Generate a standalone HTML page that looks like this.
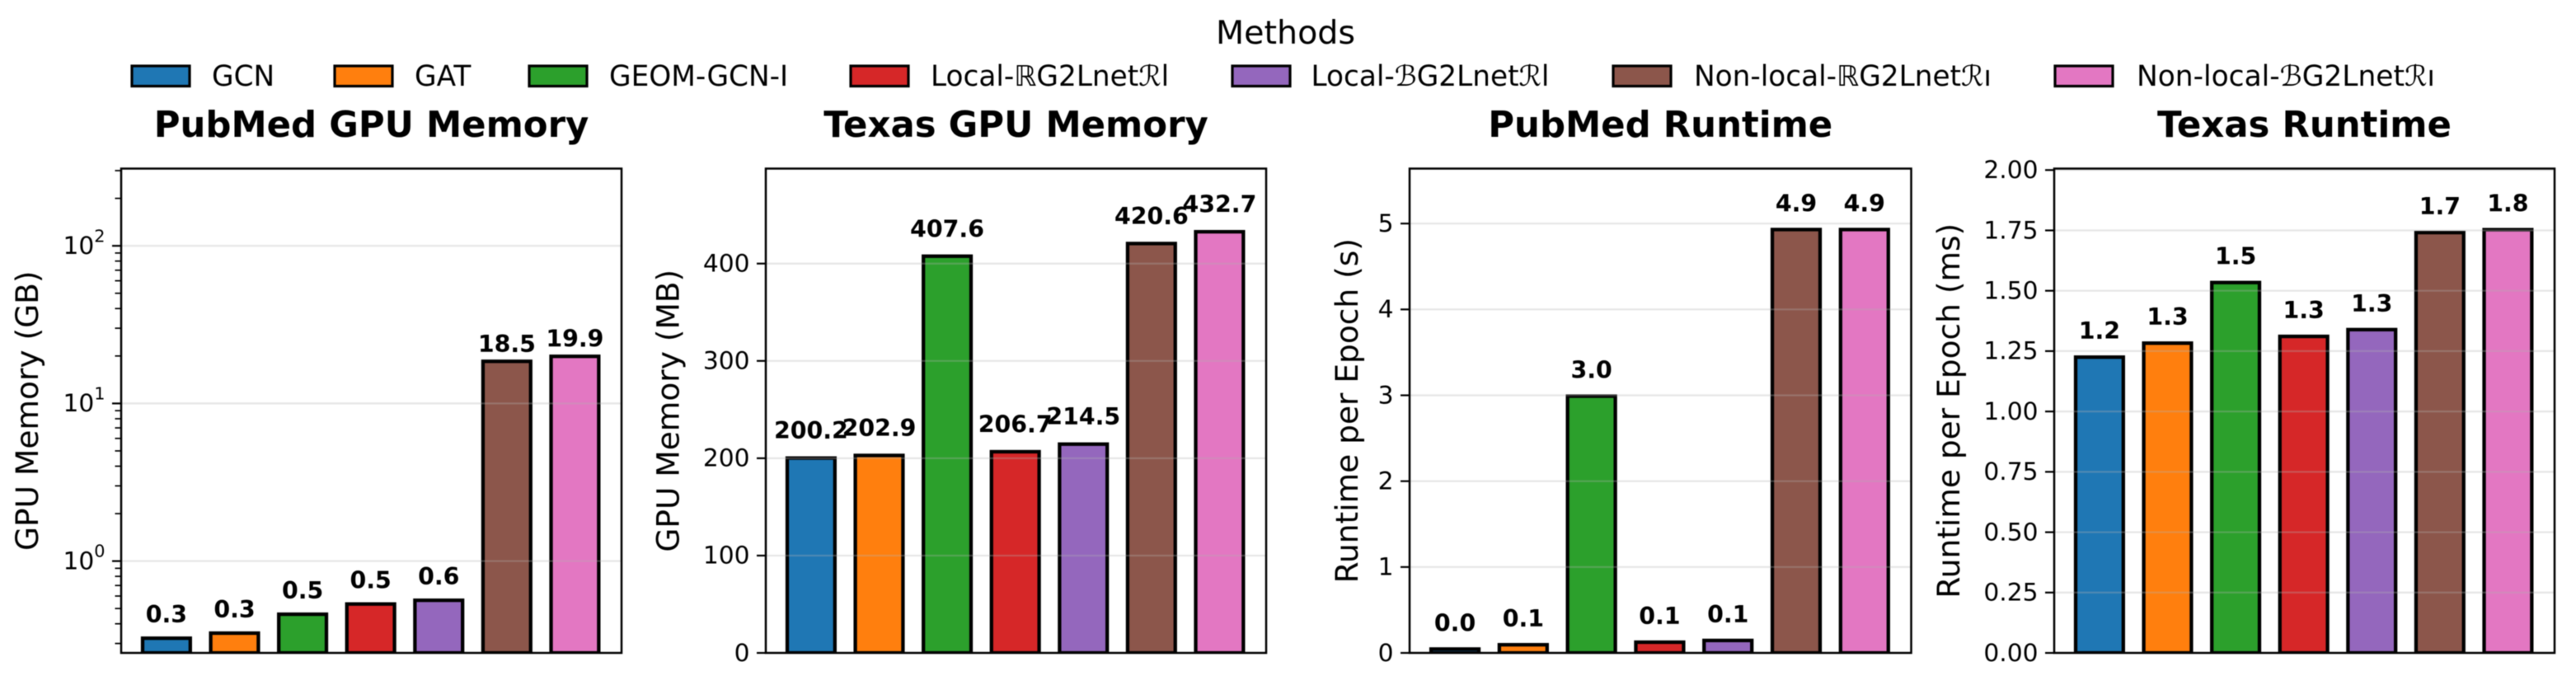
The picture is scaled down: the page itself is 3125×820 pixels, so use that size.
<!DOCTYPE html>
<html lang="en">
<head>
<meta charset="utf-8">
<title>GPU Memory and Runtime Comparison</title>
<style>
html,body{margin:0;padding:0;background:#fff;width:3125px;height:820px;overflow:hidden}
svg{display:block;filter:blur(0.6px)}
text{font-family:"DejaVu Sans","Liberation Sans",sans-serif;fill:#000}
.legend-label{font-size:34.3px}
.panel-title{font-size:43.4px;font-weight:700;text-anchor:middle}
.tick-label{font-size:29.7px;text-anchor:end}
.axis-label{font-size:37.5px;text-anchor:middle}
.value-label{font-size:28.4px;font-weight:700;text-anchor:middle}
</style>
</head>
<body>
<svg id="figure" xmlns="http://www.w3.org/2000/svg" width="3125" height="820" viewBox="0 0 3125 820">
  <rect x="0" y="0" width="3125" height="820" fill="#fff"/>
  <g>
    <text x="1559.5" y="53" text-anchor="middle" font-size="39.6">Methods</text>
    <g>
      <rect x="160" y="80" width="70" height="24.5" fill="#1f77b4" stroke="#000" stroke-width="3.2"/>
      <text class="legend-label" x="257" y="104">GCN</text>
    </g>
    <g>
      <rect x="406" y="80" width="70" height="24.5" fill="#ff7f0e" stroke="#000" stroke-width="3.2"/>
      <text class="legend-label" x="503" y="104">GAT</text>
    </g>
    <g>
      <rect x="642" y="80" width="70" height="24.5" fill="#2ca02c" stroke="#000" stroke-width="3.2"/>
      <text class="legend-label" x="739" y="104">GEOM-GCN-I</text>
    </g>
    <g>
      <rect x="1032" y="80" width="70" height="24.5" fill="#d62728" stroke="#000" stroke-width="3.2"/>
      <text class="legend-label" x="1129" y="104">Local-ℝG2Lnetℛl</text>
    </g>
    <g>
      <rect x="1495" y="80" width="70" height="24.5" fill="#9467bd" stroke="#000" stroke-width="3.2"/>
      <text class="legend-label" x="1590.5" y="104">Local-ℬG2Lnetℛl</text>
    </g>
    <g>
      <rect x="1957" y="80" width="70" height="24.5" fill="#8c564b" stroke="#000" stroke-width="3.2"/>
      <text class="legend-label" x="2055" y="104">Non-local-ℝG2Lnetℛı</text>
    </g>
    <g>
      <rect x="2493" y="80" width="70" height="24.5" fill="#e377c2" stroke="#000" stroke-width="3.2"/>
      <text class="legend-label" x="2592" y="104" textLength="362" lengthAdjust="spacingAndGlyphs">Non-local-ℬG2Lnetℛı</text>
    </g>
  </g>
</svg>
<script>
// ---- chart data ----
const methods = ["GCN", "GAT", "GEOM-GCN-I", "Local-R", "Local-B", "Non-local-R", "Non-local-B"];
const barColors = ["#1f77b4", "#ff7f0e", "#2ca02c", "#d62728", "#9467bd", "#8c564b", "#e377c2"];

const pubmedMemoryValues = [0.324, 0.349, 0.46, 0.534, 0.564, 18.5, 19.9];
const texasMemoryValues = [200.2, 202.9, 407.6, 206.7, 214.5, 420.6, 432.7];
const pubmedRuntimeValues = [0.045, 0.095, 2.99, 0.125, 0.145, 4.93, 4.93];
const texasRuntimeValues = [1.225, 1.283, 1.534, 1.311, 1.339, 1.741, 1.753];

const pubmedMemoryDomain = [0.2614, 309];
const texasMemoryDomain = [0, 497.6];
const pubmedRuntimeDomain = [0, 5.64];
const texasRuntimeDomain = [0, 2.006];

const pubmedMemoryMajorTicks = [1, 10, 100];
const pubmedMemoryExponents = ["0", "1", "2"];
const pubmedMemoryMinorTicks = [0.3, 0.4, 0.5, 0.6, 0.7, 0.8, 0.9, 2, 3, 4, 5, 6, 7, 8, 9, 20, 30, 40, 50, 60, 70, 80, 90, 200, 300];
const texasMemoryTicks = [0, 100, 200, 300, 400];
const texasMemoryTickLabels = ["0", "100", "200", "300", "400"];
const pubmedRuntimeTicks = [0, 1, 2, 3, 4, 5];
const pubmedRuntimeTickLabels = ["0", "1", "2", "3", "4", "5"];
const texasRuntimeTicks = [0, 0.25, 0.5, 0.75, 1, 1.25, 1.5, 1.75, 2];
const texasRuntimeTickLabels = ["0.00", "0.25", "0.50", "0.75", "1.00", "1.25", "1.50", "1.75", "2.00"];

// ---- rendering ----
const SVG_NS = "http://www.w3.org/2000/svg";
const figure = document.getElementById("figure");
const AXIS_TOP = 204.5;
const AXIS_BOTTOM = 792;

function make(parent, tag, attrs, text) {
  const el = document.createElementNS(SVG_NS, tag);
  for (const key in attrs) el.setAttribute(key, attrs[key]);
  if (text !== undefined) el.textContent = text;
  parent.appendChild(el);
  return el;
}

function drawChart(cfg) {
  const left = cfg.left, right = cfg.right;
  const unit = (right - left) / 7.35;
  const xScale = function (i) { return left + (i + 0.665) * unit; };
  const span = AXIS_BOTTOM - AXIS_TOP;
  const yScale = cfg.log
    ? function (v) {
        const lo = Math.log10(cfg.domain[0]), hi = Math.log10(cfg.domain[1]);
        return AXIS_BOTTOM - (Math.log10(v) - lo) / (hi - lo) * span;
      }
    : function (v) {
        return AXIS_BOTTOM - (v - cfg.domain[0]) / (cfg.domain[1] - cfg.domain[0]) * span;
      };

  const panel = make(figure, "g", {});
  
  

  const clip = make(panel, "clipPath", { id: cfg.id + "-clip" });
  make(clip, "rect", { x: left, y: AXIS_TOP, width: right - left, height: span });

  const title = make(panel, "text", { class: "panel-title", x: (left + right) / 2, y: 166 }, cfg.title);
  
  

  const yTitle = make(panel, "text", {
    class: "axis-label",
    transform: "translate(" + cfg.labelX + "," + ((AXIS_TOP + AXIS_BOTTOM) / 2) + ") rotate(-90)"
  }, cfg.yTitle);
  
  

  const bars = make(panel, "g", { "clip-path": "url(#" + cfg.id + "-clip)" });
  
  
  cfg.values.forEach(function (v, i) {
    const top = yScale(v);
    const bar = make(bars, "rect", {
      x: xScale(i) - 0.35 * unit,
      y: top,
      width: 0.7 * unit,
      height: AXIS_BOTTOM - top,
      fill: barColors[i],
      stroke: "#000",
      "stroke-width": 4.3
    });
    
    
  });

  const grid = make(panel, "g", {});
  
  
  cfg.ticks.forEach(function (t) {
    const y = yScale(t);
    if (y < AXIS_TOP || y > AXIS_BOTTOM) return;
    const line = make(grid, "line", { x1: left, x2: right, y1: y, y2: y, stroke: "#b0b0b0", "stroke-opacity": 0.32, "stroke-width": 2.2 });
    
    
  });

  const axis = make(panel, "g", {});
  
  
  (cfg.minorTicks || []).forEach(function (t) {
    const y = yScale(t);
    const tick = make(axis, "line", { x1: left - 7.5, x2: left, y1: y, y2: y, stroke: "#000", "stroke-width": 1.7 });
    
    
  });
  cfg.ticks.forEach(function (t, i) {
    const y = yScale(t);
    const tick = make(axis, "line", { x1: left - 11, x2: left, y1: y, y2: y, stroke: "#000", "stroke-width": 2.2 });
    
    
    const label = make(axis, "text", { class: "tick-label", x: left - 19.5, y: y + 9.8 });
    
    
    if (cfg.exponents) {
      make(label, "tspan", {}, "10");
      make(label, "tspan", { dy: -14.7, "font-size": 20.8 }, cfg.exponents[i]);
    } else {
      label.textContent = cfg.tickLabels[i];
    }
  });

  const labels = make(panel, "g", {});
  
  
  cfg.values.forEach(function (v, i) {
    const gap = cfg.log ? (v < 5 ? 19 : 11.5) : cfg.labelGap;
    const label = make(labels, "text", { class: "value-label", x: xScale(i), y: yScale(v) - gap }, v.toFixed(1));
    
    
  });

  const frame = make(panel, "rect", { x: left, y: AXIS_TOP, width: right - left, height: span, fill: "none", stroke: "#000", "stroke-width": 2.5 });
  
  
}

drawChart({
  id: "pubmed-memory", title: "PubMed GPU Memory", yTitle: "GPU Memory (GB)",
  left: 147, right: 754, labelX: 46, log: true,
  values: pubmedMemoryValues, domain: pubmedMemoryDomain,
  ticks: pubmedMemoryMajorTicks, exponents: pubmedMemoryExponents, minorTicks: pubmedMemoryMinorTicks
});
drawChart({
  id: "texas-memory", title: "Texas GPU Memory", yTitle: "GPU Memory (MB)",
  left: 929, right: 1536, labelX: 823.5, labelGap: 23.5,
  values: texasMemoryValues, domain: texasMemoryDomain,
  ticks: texasMemoryTicks, tickLabels: texasMemoryTickLabels
});
drawChart({
  id: "pubmed-runtime", title: "PubMed Runtime", yTitle: "Runtime per Epoch (s)",
  left: 1710, right: 2318.5, labelX: 1647, labelGap: 22,
  values: pubmedRuntimeValues, domain: pubmedRuntimeDomain,
  ticks: pubmedRuntimeTicks, tickLabels: pubmedRuntimeTickLabels
});
drawChart({
  id: "texas-runtime", title: "Texas Runtime", yTitle: "Runtime per Epoch (ms)",
  left: 2492, right: 3099, labelX: 2377, labelGap: 22,
  values: texasRuntimeValues, domain: texasRuntimeDomain,
  ticks: texasRuntimeTicks, tickLabels: texasRuntimeTickLabels
});
</script>
</body>
</html>
